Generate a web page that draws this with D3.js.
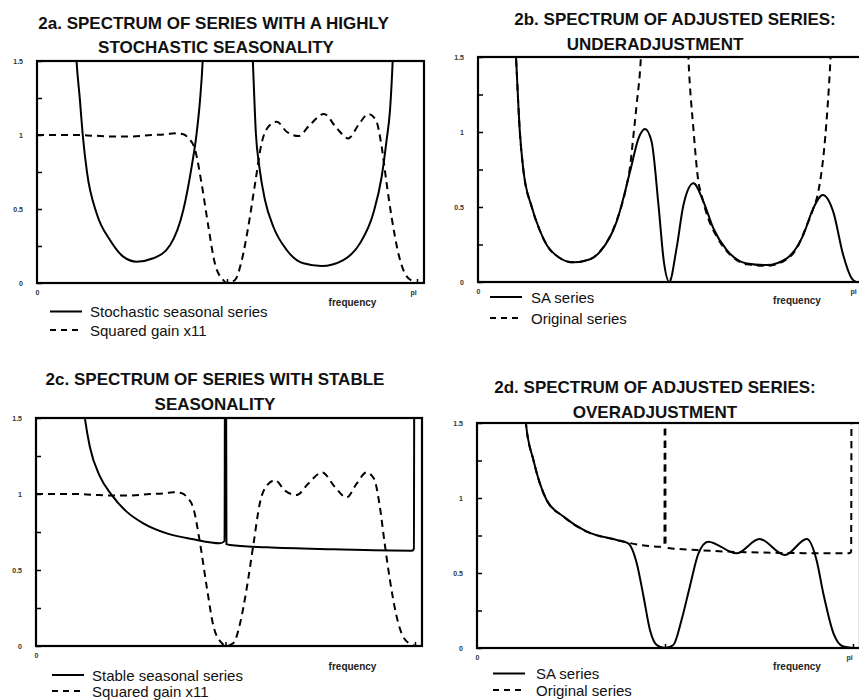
<!doctype html>
<html>
<head>
<meta charset="UTF-8">
<title>spectra</title>
<script src="https://d3js.org/d3.v7.min.js"></script>
<style>
    body{ margin:0; background:#fff; }
    svg{ display:block; font-family:"Liberation Sans", Arial, sans-serif; }
</style>
</head>
<body>
<svg width="859" height="700" id="svg1"></svg>
<script>
// frequency is in units of pi (0 .. 1)
// values above 1.5 run off the top of the frame and get clipped

// squared gain x11 (dashed, panels a and c)
var gainF = [0, 0.05, 0.1, 0.15, 0.2, 0.25, 0.3, 0.34, 0.363, 0.385, 0.398, 0.416, 0.433, 0.451, 0.468, 0.49, 0.5, 0.521, 0.539, 0.556,
             0.574, 0.591, 0.609, 0.631, 0.657, 0.688, 0.718, 0.755, 0.789, 0.819, 0.846, 0.872, 0.892, 0.907, 0.92, 0.933, 0.951, 0.968, 0.99, 1.0];
var gainV = [1.0, 1.0, 1.0, 0.995, 0.99, 0.99, 1.0, 1.005, 1.011, 1.005, 0.98, 0.9, 0.674, 0.381, 0.133, 0.02, 0.0, 0.02, 0.155, 0.38,
             0.674, 0.944, 1.056, 1.09, 1.022, 0.993, 1.068, 1.142, 1.045, 0.977, 1.068, 1.142, 1.1, 0.921, 0.674, 0.448, 0.2, 0.065, 0.01, 0.0];

// 2a stochastic seasonal series
var stochF = [0, 0.09, 0.104, 0.113, 0.12, 0.132, 0.157, 0.192, 0.227, 0.262, 0.306, 0.35, 0.385, 0.407, 0.42, 0.429, 0.436, 0.445, 0.5,
              0.555, 0.568, 0.576, 0.585, 0.6, 0.622, 0.657, 0.701, 0.749, 0.806, 0.85, 0.885, 0.907, 0.92, 0.929, 0.936, 0.945, 1.0];
var stochV = [9, 2.3, 1.5, 1.236, 1.01, 0.74, 0.47, 0.29, 0.178, 0.144, 0.167, 0.255, 0.493, 0.786, 1.01, 1.236, 1.5, 2.2, 9,
              2.2, 1.5, 1.01, 0.786, 0.56, 0.38, 0.223, 0.133, 0.115, 0.155, 0.268, 0.471, 0.718, 0.966, 1.169, 1.5, 2.2, 9];

// 2c stable seasonal series
var stableF = [0.1, 0.129, 0.142, 0.169, 0.2, 0.239, 0.283, 0.345, 0.415, 0.485, 0.4975, 0.4995, 0.5005, 0.5025, 0.512, 0.609, 0.784, 0.992, 0.997, 0.999, 1.0];
var stableV = [2.2, 1.498, 1.311, 1.114, 0.993, 0.884, 0.807, 0.741, 0.702, 0.676, 0.69, 3, 3, 0.67, 0.664, 0.649, 0.636, 0.627, 0.64, 3, 3];

// 2b underadjustment: SA series and original series
var saUnderF = [0.085, 0.099, 0.109, 0.118, 0.14, 0.16, 0.179, 0.21, 0.248, 0.29, 0.318, 0.361, 0.396, 0.418, 0.435, 0.452, 0.47, 0.484,
                0.498, 0.517, 0.535, 0.561, 0.587, 0.613, 0.648, 0.7, 0.752, 0.804, 0.847, 0.873, 0.898, 0.925, 0.951, 0.973, 0.986, 1.0];
var saUnderV = [2.2, 1.5, 1.0, 0.75, 0.5, 0.35, 0.247, 0.165, 0.131, 0.15, 0.202, 0.402, 0.736, 0.958, 1.02, 0.936, 0.513, 0.136,
                0.0, 0.224, 0.513, 0.658, 0.536, 0.358, 0.213, 0.124, 0.113, 0.158, 0.313, 0.491, 0.58, 0.469, 0.18, 0.025, 0.0, 0.0];
var origUnderF = [0.085, 0.099, 0.109, 0.118, 0.14, 0.16, 0.179, 0.21, 0.248, 0.29, 0.318, 0.361, 0.385, 0.396, 0.404, 0.413, 0.424, 0.435, 0.5,
                  0.538, 0.548, 0.561, 0.574, 0.582, 0.6, 0.62, 0.65, 0.7, 0.752, 0.804, 0.83, 0.855, 0.872, 0.886, 0.904, 0.918, 0.93, 1.0];
var origUnderV = [2.2, 1.5, 1.0, 0.75, 0.5, 0.35, 0.247, 0.165, 0.131, 0.15, 0.205, 0.41, 0.62, 0.77, 0.958, 1.18, 1.49, 2.2, 6,
                  2.2, 1.49, 1.02, 0.669, 0.58, 0.42, 0.31, 0.2, 0.118, 0.108, 0.152, 0.225, 0.37, 0.48, 0.6, 0.958, 1.49, 2.2, 6];

// 2d overadjustment: SA series and original series
var saOverF = [0.12, 0.13, 0.15, 0.185, 0.23, 0.292, 0.372, 0.402, 0.425, 0.443, 0.46, 0.478, 0.5, 0.522, 0.544, 0.566, 0.589, 0.615,
               0.69, 0.751, 0.819, 0.877, 0.903, 0.921, 0.948, 0.974, 1.0];
var saOverV = [2.0, 1.5, 1.253, 0.987, 0.876, 0.776, 0.72, 0.698, 0.564, 0.342, 0.12, 0.02, 0.0, 0.02, 0.187, 0.409, 0.631, 0.709,
               0.631, 0.727, 0.62, 0.727, 0.587, 0.364, 0.098, 0.01, 0.0];
var origOverF = [0.12, 0.13, 0.15, 0.185, 0.23, 0.292, 0.372, 0.402, 0.44, 0.487, 0.4985, 0.4999, 0.5001, 0.5015, 0.509, 0.584, 0.761, 0.988, 0.995, 0.997, 1.0];
var origOverV = [2.0, 1.5, 1.253, 0.987, 0.876, 0.776, 0.72, 0.702, 0.685, 0.675, 0.69, 3, 3, 0.69, 0.667, 0.653, 0.636, 0.631, 0.64, 3, 3];

// axis ticks and labels
var yTicks = [0, 0.25, 0.5, 0.75, 1, 1.25, 1.5];
var yTickLabels = ["0", "", "0.5", "", "1", "", "1.5"];
var xTicks = [0, 0.5, 1];
var xTickLabels = ["0", "", "pi"];
var xTickLabelsNoPi = ["0", "", ""];

var svg = d3.select("#svg1");

var panels = [
    {id: "a", left: 37, pi: 417, top: 61, bottom: 283, xlab: xTickLabels, piDx: -4,
     title: [["2a. SPECTRUM OF SERIES WITH A HIGHLY", 213.5, 28.5], ["STOCHASTIC SEASONALITY", 216, 52.5]],
     series: [[stochF, stochV, null], [gainF, gainV, "7,5"]],
     legend: [["Stochastic seasonal series", null], ["Squared gain x11", "6,5"]],
     lx: 50, ly: [311.5, 330], tx: 90, freq: [352.5, 305.5]},
    {id: "b", left: 478, pi: 862, top: 57, bottom: 282, xlab: xTickLabels, piDx: -9,
     title: [["2b. SPECTRUM OF ADJUSTED SERIES:", 675, 24.5], ["UNDERADJUSTMENT", 655, 49.5]],
     series: [[saUnderF, saUnderV, null], [origUnderF, origUnderV, "7,5"]],
     legend: [["SA series", null], ["Original series", "6,5"]],
     lx: 490, ly: [297, 318], tx: 531, freq: [797, 304]},
    {id: "c", left: 36, pi: 415, top: 418, bottom: 646, xlab: xTickLabelsNoPi, piDx: -4,
     title: [["2c. SPECTRUM OF SERIES WITH STABLE", 215, 384.5], ["SEASONALITY", 215, 409.5]],
     series: [[stableF, stableV, null], [gainF, gainV, "7,5"]],
     legend: [["Stable seasonal series", null], ["Squared gain x11", "6,5"]],
     lx: 52, ly: [675, 691], tx: 92, freq: [352.5, 669.5]},
    {id: "d", left: 477, pi: 853, top: 423, bottom: 648, xlab: xTickLabels, piDx: -4,
     title: [["2d. SPECTRUM OF ADJUSTED SERIES:", 655, 392.5], ["OVERADJUSTMENT", 655, 417.5]],
     series: [[saOverF, saOverV, null], [origOverF, origOverV, "7,5"]],
     legend: [["SA series", null], ["Original series", "6,5"]],
     lx: 493, ly: [673.5, 690], tx: 536, freq: [797, 669.5]}
];

panels.forEach(drawPanel);

function drawPanel(p){
    var right = p.pi + 7;
    var x = d3.scaleLinear().domain([0, 1]).range([p.left, p.pi]);
    var y = d3.scaleLinear().domain([0, 1.5]).range([p.bottom, p.top]);
    var g = svg.append("g");

    g.append("clipPath").attr("id", "clip" + p.id)
        .append("rect")
        .attr("x", p.left).attr("y", p.top)
        .attr("width", right - p.left).attr("height", p.bottom - p.top);

    var line = d3.line()
        .x(function(d){ return x(d[0]); })
        .y(function(d){ return y(d[1]); })
        .curve(d3.curveMonotoneX);

    var curves = g.append("g").attr("clip-path", "url(#clip" + p.id + ")");
    p.series.forEach(function(s){
        curves.append("path")
            .attr("d", line(d3.zip(s[0], s[1])))
            .attr("fill", "none")
            .attr("stroke", "#000")
            .attr("stroke-width", 2)
            .attr("stroke-dasharray", s[2]);
    });

    // y axis, ticks inside
    var ya = g.append("g").attr("transform", "translate(" + p.left + ",0)")
        .call(d3.axisLeft(y).tickValues(yTicks).tickSize(-5).tickPadding(14)
            .tickFormat(function(d, i){ return yTickLabels[i]; }));
    styleAxis(ya);

    // x axis
    var xa = g.append("g").attr("transform", "translate(0," + p.bottom + ")")
        .call(d3.axisBottom(x).tickValues(xTicks).tickSize(-4).tickPadding(7)
            .tickFormat(function(d, i){ return p.xlab[i]; }));
    styleAxis(xa);
    xa.selectAll(".tick").filter(function(d){ return d === 0; }).select("line").remove();
    xa.selectAll(".tick text").attr("dx", function(d){ return d === 1 ? p.piDx : 0; });

    // frame
    g.append("rect")
        .attr("x", p.left).attr("y", p.top)
        .attr("width", right - p.left).attr("height", p.bottom - p.top)
        .attr("fill", "none").attr("stroke", "#000").attr("stroke-width", 2.2);

    // title
    p.title.forEach(function(t){
        g.append("text").attr("x", t[1]).attr("y", t[2])
            .attr("text-anchor", "middle")
            .attr("font-size", 17).attr("font-weight", "bold")
            .attr("fill", "#111")
            .text(t[0]);
    });

    g.append("text").attr("x", p.freq[0]).attr("y", p.freq[1])
        .attr("text-anchor", "middle")
        .attr("font-size", 10).attr("font-weight", "bold").attr("fill", "#222")
        .text("frequency");

    // legend
    p.legend.forEach(function(l, i){
        g.append("line")
            .attr("x1", p.lx).attr("x2", p.lx + 32)
            .attr("y1", p.ly[i]).attr("y2", p.ly[i])
            .attr("stroke", "#000").attr("stroke-width", 2)
            .attr("stroke-dasharray", l[1]);
        g.append("text").attr("x", p.tx).attr("y", p.ly[i] + 5.5)
            .attr("font-size", 15).attr("fill", "#111")
            .text(l[0]);
    });
}

function styleAxis(a){
    a.attr("font-family", null).attr("font-size", null);
    a.select(".domain").remove();
    a.selectAll(".tick line").attr("stroke", "#000").attr("stroke-width", 1.5);
    a.selectAll(".tick text")
        .attr("font-size", 7).attr("font-weight", "bold").attr("fill", "#333");
}
</script>
</body>
</html>
